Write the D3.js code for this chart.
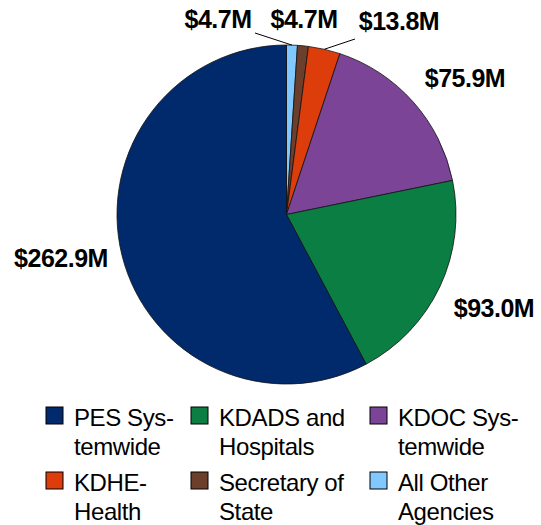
<!DOCTYPE html>
<html><head><meta charset="utf-8">
<script src="https://cdn.jsdelivr.net/npm/d3@7"></script>
<style>body{margin:0;background:#fff}svg{display:block}</style>
</head><body>
<svg id="c" width="541" height="525"></svg>
<script>
const categories = ["PES Systemwide","KDADS and Hospitals","KDOC Systemwide","KDHE-Health","Secretary of State","All Other Agencies"];
const legendLines = [["PES Sys-","temwide"],["KDADS and","Hospitals"],["KDOC Sys-","temwide"],["KDHE-","Health"],["Secretary of","State"],["All Other","Agencies"]];
const values = [262.9, 93.0, 75.9, 13.8, 4.7, 4.7];
const valueLabels = ["$262.9M","$93.0M","$75.9M","$13.8M","$4.7M","$4.7M"];
const colors = ["#002a6c","#0b7f43","#7b4496","#dc3d0a","#6b3f2c","#80c8ff"];

const svg = d3.select("#c");
const cx = 286.5, cy = 214.5, R = 169.5;
// Drawn clockwise from 12 o'clock in reverse category order
const order = d3.range(categories.length).reverse();
const pie = d3.pie().sort(null).value(i => values[i]);
const arcs = pie(order);
const arc = d3.arc().innerRadius(0).outerRadius(R);
const g = svg.append("g").attr("transform", `translate(${cx},${cy})`);
g.selectAll("path").data(arcs).join("path")
  .attr("d", arc)
  .attr("fill", d => colors[d.data])
  .attr("stroke", "#111").attr("stroke-width", 0.8);

const labelPos = {
  0: {x: 61, y: 267},
  1: {x: 494, y: 317},
  2: {x: 465, y: 87},
  3: {x: 399, y: 30},
  4: {x: 304, y: 28},
  5: {x: 218, y: 28}
};
const leaders = {5: [255, 33], 3: [355, 39]};
arcs.forEach(a => {
  const i = a.data;
  if (leaders[i]) {
    const mid = (a.startAngle + a.endAngle) / 2;
    const px = cx + Math.sin(mid) * R, py = cy - Math.cos(mid) * R;
    svg.append("line").attr("x1", leaders[i][0]).attr("y1", leaders[i][1])
      .attr("x2", px).attr("y2", py).attr("stroke", "#000").attr("stroke-width", 1);
  }
});
svg.selectAll("text.lbl").data(order).join("text").attr("class","lbl")
  .attr("x", i => labelPos[i].x).attr("y", i => labelPos[i].y)
  .attr("text-anchor", "middle")
  .attr("font-family", "Liberation Sans, Arial, sans-serif")
  .attr("font-weight", "bold").attr("font-size", 25).attr("letter-spacing", -0.5)
  .attr("fill", "#000")
  .text(i => valueLabels[i]);

// legend
const colX = [46, 191, 370];
const rowY = [407, 472];
const leg = svg.append("g");
categories.forEach((c, i) => {
  const col = i % 3, row = Math.floor(i / 3);
  const x = colX[col], y = rowY[row];
  leg.append("rect").attr("x", x).attr("y", y).attr("width", 17).attr("height", 17)
    .attr("fill", colors[i]).attr("stroke", "#000").attr("stroke-width", 1);
  const t = leg.append("text").attr("x", x + 28).attr("y", y + 19)
    .attr("font-family", "Liberation Sans, Arial, sans-serif").attr("font-size", 24)
    .attr("letter-spacing", -0.4)
    .attr("fill", "#000");
  legendLines[i].forEach((ln, k) => {
    t.append("tspan").attr("x", x + 28).attr("dy", k === 0 ? 0 : 29).text(ln);
  });
});
</script>
</body></html>
